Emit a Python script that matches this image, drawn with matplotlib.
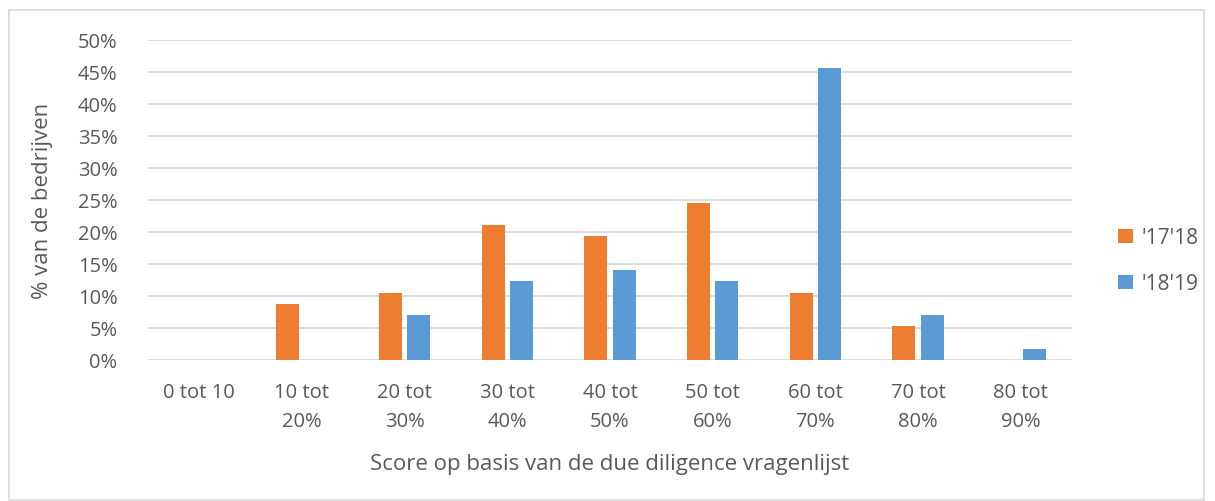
import matplotlib.pyplot as plt
import numpy as np
from matplotlib.patches import Rectangle

categories = ["0 tot 10", "10 tot\n20%", "20 tot\n30%", "30 tot\n40%", "40 tot\n50%",
              "50 tot\n60%", "60 tot\n70%", "70 tot\n80%", "80 tot\n90%"]
series_1718 = [0.0, 8.77, 10.53, 21.05, 19.30, 24.56, 10.53, 5.26, 0.0]
series_1819 = [0.0, 0.0, 7.02, 12.28, 14.04, 12.28, 45.61, 7.02, 1.75]
labels = ["'17'18", "'18'19"]
colors = ["#ED7D31", "#5B9BD5"]
text_col = "#595959"

plt.rcParams['font.family'] = ['Open Sans', 'DejaVu Sans']

fig = plt.figure(figsize=(12.15, 5.02), dpi=100)
ax = fig.add_axes([148 / 1215, 1 - 361 / 502, 924 / 1215, 320 / 502])

# light frame around the whole chart
fig.patches.append(Rectangle((9 / 1215, 0.002), 1195 / 1215, 1 - 11 / 502 - 0.002,
                             transform=fig.transFigure, fill=False,
                             edgecolor="#D9D9D9", linewidth=1.2))

x = np.arange(len(categories))
w = 0.225
ax.bar(x - 0.137, series_1718, w, color=colors[0], label=labels[0], zorder=3)
ax.bar(x + 0.137, series_1819, w, color=colors[1], label=labels[1], zorder=3)

ax.set_xlim(-0.5, len(categories) - 0.5)
ax.set_ylim(0, 50)
ax.set_yticks(range(0, 51, 5))
ax.set_yticklabels([f"{v}%" for v in range(0, 51, 5)])
ax.set_xticks(x)
ax.set_xticklabels(categories, linespacing=1.6)
ax.yaxis.grid(True, color="#D9D9D9", linewidth=1.3, zorder=0)
for s in ax.spines.values():
    s.set_visible(False)
ax.tick_params(axis='both', length=0, colors=text_col, labelsize=14.5)
ax.tick_params(axis='x', pad=16)
ax.tick_params(axis='y', pad=22)

ax.set_xlabel("Score op basis van de due diligence vragenlijst", color=text_col,
              fontsize=16, labelpad=16)
ax.set_ylabel("% van de bedrijven", color=text_col, fontsize=16, labelpad=18)

ax.legend(loc="center left", bbox_to_anchor=(1.03, 0.31), frameon=False,
          fontsize=15, labelcolor=text_col, handlelength=0.7, handleheight=0.7,
          labelspacing=1.2, handletextpad=0.4)

fig.savefig("out.png", dpi=100)
